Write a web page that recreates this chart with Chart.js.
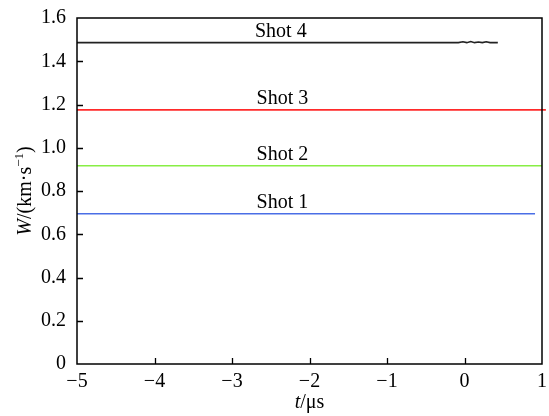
<!DOCTYPE html>
<html>
<head>
<meta charset="utf-8">
<script src="https://cdn.jsdelivr.net/npm/chart.js@4/dist/chart.umd.min.js"></script>
<style>
html,body{margin:0;padding:0;background:#fff;}
#wrap{width:549px;height:416px;position:relative;}
</style>
</head>
<body>
<div id="wrap"><canvas id="c" width="549" height="416"></canvas></div>
<script>
// ---- data ----
const xTicks = [-5, -4, -3, -2, -1, 0, 1];
const yTicks = [0, 0.2, 0.4, 0.6, 0.8, 1.0, 1.2, 1.4, 1.6];
const seriesNames = ['Shot 1', 'Shot 2', 'Shot 3', 'Shot 4'];
const shot1T = [-5, 0.91];
const shot1W = [0.695, 0.695];
const shot2T = [-5, 1.0];
const shot2W = [0.917, 0.917];
const shot3T = [-5, 1.05];
const shot3W = [1.175, 1.175];
const shot4T = [-5, -0.08, -0.02, 0.03, 0.08, 0.13, 0.18, 0.23, 0.28, 0.33, 0.38, 0.43];
const shot4W = [1.486, 1.486, 1.490, 1.486, 1.491, 1.486, 1.489, 1.486, 1.490, 1.486, 1.487, 1.486];
const labelT = [-2.35, -2.35, -2.35, -2.37];
const colors = ['#4a6ee6', '#88ee44', '#ff2a2a', '#222222'];

const FONT = '"Liberation Serif", "Times New Roman", serif';

function pts(t, w){ return t.map((v,i)=>({x:v, y:w[i]})); }
const allT = [shot1T, shot2T, shot3T, shot4T];
const allW = [shot1W, shot2W, shot3W, shot4W];

const datasets = allT.map((t,i)=>({
  label: seriesNames[i],
  data: pts(t, allW[i]),
  borderColor: colors[i],
  borderWidth: 1.6,
  pointRadius: 0,
  tension: 0,
  clip: false,
  fill: false
}));

const framePlugin = {
  id: 'frame',
  afterDraw(chart){
    const {ctx, chartArea: a, scales:{x, y}} = chart;
    ctx.save();
    ctx.strokeStyle = '#000';
    ctx.lineWidth = 1.5;
    ctx.strokeRect(a.left, a.top, a.right - a.left, a.bottom - a.top);
    ctx.lineWidth = 1.3;
    ctx.beginPath();
    xTicks.forEach(v=>{
      if (v === xTicks[0] || v === xTicks[xTicks.length-1]) return;
      const px = Math.round(x.getPixelForValue(v)) + 0.5;
      ctx.moveTo(px, a.bottom); ctx.lineTo(px, a.bottom - 6);
    });
    yTicks.forEach(v=>{
      if (v === yTicks[0] || v === yTicks[yTicks.length-1]) return;
      const py = Math.round(y.getPixelForValue(v)) + 0.5;
      ctx.moveTo(a.left, py); ctx.lineTo(a.left + 6, py);
    });
    ctx.stroke();

    // series labels
    ctx.fillStyle = '#000';
    ctx.font = '20px ' + FONT;
    ctx.textAlign = 'center';
    ctx.textBaseline = 'alphabetic';
    allW.forEach((w,i)=>{
      const px = x.getPixelForValue(labelT[i]);
      const py = y.getPixelForValue(w[0]);
      ctx.fillText(seriesNames[i], px, py - 6);
    });

    // x title: t/μs
    ctx.textAlign = 'left';
    const cx = (a.left + a.right)/2;
    const part1 = 't', part2 = '/μs';
    ctx.font = 'italic 20px ' + FONT;
    const w1 = ctx.measureText(part1).width;
    ctx.font = '20px ' + FONT;
    const w2 = ctx.measureText(part2).width;
    let sx = cx - (w1 + w2)/2;
    ctx.font = 'italic 20px ' + FONT;
    ctx.fillText(part1, sx, 408);
    ctx.font = '20px ' + FONT;
    ctx.fillText(part2, sx + w1, 408);

    // y title: W/(km·s^-1)
    ctx.save();
    const cy = (a.top + a.bottom)/2;
    ctx.translate(31, cy);
    ctx.rotate(-Math.PI/2);
    const segs = [
      {t:'W', f:'italic 20px ' + FONT, dy:0},
      {t:'/(km·s', f:'20px ' + FONT, dy:0},
      {t:'−1', f:'13px ' + FONT, dy:-8},
      {t:')', f:'20px ' + FONT, dy:0}
    ];
    let tw = 0;
    segs.forEach(s=>{ ctx.font = s.f; s.w = ctx.measureText(s.t).width; tw += s.w; });
    let ox = -tw/2;
    segs.forEach(s=>{ ctx.font = s.f; ctx.fillText(s.t, ox, s.dy); ox += s.w; });
    ctx.restore();
    ctx.restore();
  }
};

new Chart(document.getElementById('c'), {
  type: 'line',
  data: { datasets },
  plugins: [framePlugin],
  options: {
    responsive: false,
    animation: false,
    layout: { padding: { top: 18, right: 7, left: 0, bottom: 0 } },
    plugins: { legend: { display: false }, tooltip: { enabled: false } },
    scales: {
      x: {
        type: 'linear',
        min: -5, max: 1,
        afterBuildTicks(s){ s.ticks = xTicks.map(v=>({value:v})); },
        afterFit(s){ s.height = 52; s.paddingLeft = 0; s.paddingRight = 0; },
        grid: { display: false, drawTicks: false },
        border: { display: false },
        ticks: {
          color: '#000',
          font: { family: FONT, size: 20 },
          padding: 6,
          maxRotation: 0,
          autoSkip: false,
          callback: v => String(v).replace('-', '\u2212')
        }
      },
      y: {
        min: 0, max: 1.6,
        afterBuildTicks(s){ s.ticks = yTicks.map(v=>({value:v})); },
        afterFit(s){ s.width = 77; s.paddingTop = 0; s.paddingBottom = 0; },
        grid: { display: false, drawTicks: false },
        border: { display: false },
        ticks: {
          color: '#000',
          font: { family: FONT, size: 20 },
          padding: 11,
          autoSkip: false,
          callback: v => v === 0 ? '0' : Number(v).toFixed(1)
        }
      }
    }
  }
});
</script>
</body>
</html>
